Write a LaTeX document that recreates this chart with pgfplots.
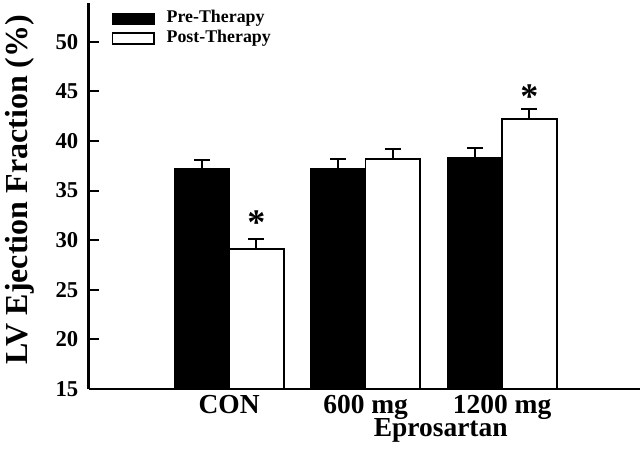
\documentclass[border=0pt]{standalone}
\usepackage{fontspec}
\setmainfont{Liberation Serif}
\usepackage{pgfplots}
\pgfplotsset{compat=1.18}
\begin{document}
\begin{tikzpicture}
\useasboundingbox (-66.4pt,-49.5pt) rectangle (413.6pt,291.75pt);
\begin{axis}[
  scale only axis,
  width=413.6pt, height=289.5pt,
  xmin=-0.03, xmax=4.01, ymin=15, ymax=53.9,
  enlargelimits=false,
  clip=false,
  axis x line=bottom, axis y line=left,
  axis line style={-, line width=1.6pt},
  ytick={15,20,...,50},
  xtick={1,2,3},
  xticklabels={CON,600 mg,1200 mg},
  major x tick style={draw=none},
  tick align=inside,
  major tick length=7.5pt,
  every tick/.style={black, line width=1.5pt},
  /pgf/number format/assume math mode=true,
  yticklabel style={font=\bfseries\fontsize{17}{19}\selectfont, anchor=east, inner sep=0pt, xshift=-7.5pt},
  xticklabel style={font=\bfseries\fontsize{20.6}{22}\selectfont, anchor=base, inner sep=0pt, yshift=-18pt},
  legend style={at={(rel axis cs:0.042,0.985)}, anchor=north west, draw=none, fill=none,
    inner sep=0pt, outer sep=0pt, row sep=2pt,
    font=\bfseries\fontsize{13.4}{15}\selectfont,
    nodes={inner sep=1pt},
    /tikz/every odd column/.append style={column sep=7.8pt}},
  legend cell align=left,
  legend image code/.code={\draw[#1] (0pt,-5.3pt) rectangle (31.2pt,2.9pt);},
]
\addplot[ybar, bar width=0.4, bar shift=0pt, fill=black, draw=black, line width=1.2pt,
  error bars/.cd, y dir=plus, y explicit,
  error bar style={line width=1.5pt, black},
  error mark options={rotate=90, mark size=6pt, line width=1.5pt, black}]
  coordinates {(0.8,37.2) +- (0,0.9) (1.8,37.2) +- (0,0.95) (2.8,38.3) +- (0,0.95)};
\addlegendentry{Pre-Therapy}
\addplot[ybar, bar width=0.4, bar shift=0pt, fill=white, draw=black, line width=1.2pt,
  error bars/.cd, y dir=plus, y explicit,
  error bar style={line width=1.5pt, black},
  error mark options={rotate=90, mark size=6pt, line width=1.5pt, black}]
  coordinates {(1.2,29.1) +- (0,1.0) (2.2,38.2) +- (0,1.0) (3.2,42.2) +- (0,1.0)};
\addlegendentry{Post-Therapy}
\node[anchor=north, inner sep=0pt, font=\bfseries\fontsize{27}{27}\selectfont] at (axis cs:1.2,33.0) {*};
\node[anchor=north, inner sep=0pt, font=\bfseries\fontsize{27}{27}\selectfont] at (axis cs:3.2,45.7) {*};
\node[anchor=base, inner sep=0pt, font=\bfseries\fontsize{20.6}{22}\selectfont, yshift=-35.25pt] at (axis cs:2.55,15) {Eprosartan};
\node[anchor=base, rotate=90, inner sep=0pt, font=\bfseries\fontsize{24}{26}\selectfont] at ([xshift=-45.4pt]rel axis cs:0,0.516) {LV Ejection Fraction (\%)};
\end{axis}
\end{tikzpicture}
\end{document}
